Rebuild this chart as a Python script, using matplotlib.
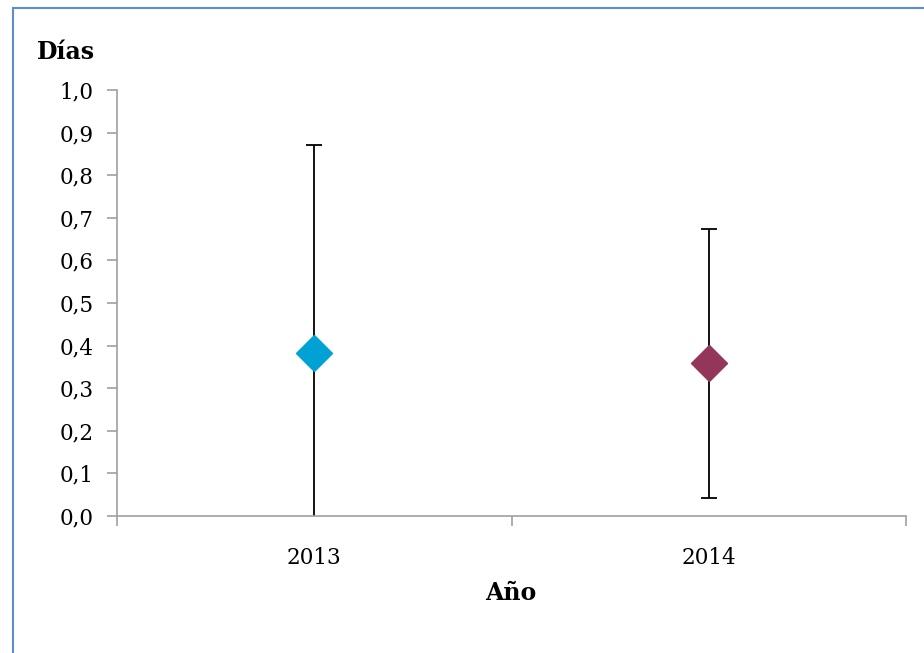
import numpy as np
import matplotlib.pyplot as plt
from matplotlib.patches import Rectangle

years = ['2013', '2014']
media = [0.383, 0.358]
error = [0.487, 0.316]
colores = ['#00A2D6', '#93365A']

plt.rcParams['font.family'] = ['DejaVu Serif']

fig = plt.figure(figsize=(9.24, 6.53), dpi=100)
ax = fig.add_axes([117 / 924, 137 / 653, 789 / 924, 426 / 653])

# marco del grafico (recortado a la derecha y abajo)
fig.patches.append(Rectangle((13 / 924, -0.1), 1.2, (653 - 8) / 653 + 0.1,
                             transform=fig.transFigure, fill=False,
                             edgecolor='#5B8FC8', linewidth=1.5))

x = np.arange(len(years)) + 0.5
for i in range(len(years)):
    ax.errorbar(x[i], media[i], yerr=error[i], fmt='none', ecolor='black',
                elinewidth=1.3, capsize=5.5, capthick=1.3, zorder=2)
    ax.plot(x[i], media[i], marker='D', markersize=18, color=colores[i],
            linestyle='none', zorder=3, clip_on=False)

ax.set_xlim(0, 2)
ax.set_ylim(0, 1.0)
ax.set_yticks(np.arange(0, 1.01, 0.1))
ax.set_yticklabels([('%.1f' % v).replace('.', ',') for v in np.arange(0, 1.01, 0.1)])
ax.set_xticks([0, 1, 2])
ax.set_xticklabels(['', '', ''])
ax.set_xticks(x, minor=True)
ax.set_xticklabels(years, minor=True)
ax.tick_params(axis='x', which='minor', length=0, pad=22, labelsize=15.5)
ax.tick_params(axis='x', which='major', length=7, color='#A0A0A0', width=1.2)
ax.tick_params(axis='y', length=7, color='#A0A0A0', width=1.2, labelsize=15.5, pad=10)

for s in ['top', 'right']:
    ax.spines[s].set_visible(False)
for s in ['left', 'bottom']:
    ax.spines[s].set_color('#A0A0A0')
    ax.spines[s].set_linewidth(1.2)

fig.text(37 / 924, 1 - 52 / 653, 'Días', fontsize=17, fontweight='bold', va='center', ha='left')
fig.text(511 / 924, 1 - 593 / 653, 'Año', fontsize=17, fontweight='bold', va='center', ha='center')

fig.savefig('out.png', dpi=100)
